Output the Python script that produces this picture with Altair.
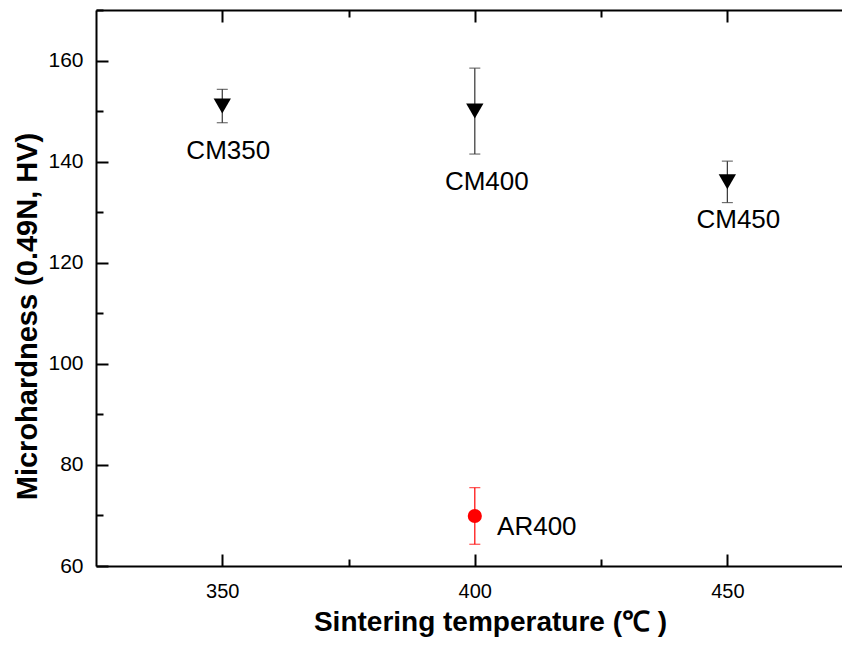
import altair as alt
import pandas as pd

# ---- data ----
temps = [350, 400, 450, 400]
hardness = [151.0, 150.0, 136.0, 69.9]
errors = [3.3, 8.5, 4.1, 5.6]
labels = ["CM350", "CM400", "CM450", "AR400"]
groups = ["CM", "CM", "CM", "AR"]

x_major = [350, 400, 450]
x_minor = [375, 425]
y_major = [60, 80, 100, 120, 140, 160]
y_minor = [70, 90, 110, 130, 150, 170]

df = pd.DataFrame(dict(t=temps, hv=hardness, err=errors, label=labels, group=groups))
df["lo"] = df.hv - df.err
df["hi"] = df.hv + df.err

FONT = "Liberation Sans"
xs = alt.Scale(domain=[325, 472.7], nice=False, zero=False)
ys = alt.Scale(domain=[60, 170], nice=False, zero=False)
col = alt.Color("group:N", scale=alt.Scale(domain=["CM", "AR"], range=["#333333", "#ff0000"]), legend=None)


def tick_axis(orient, values, size):
    return alt.Axis(orient=orient, values=values, offset=-size, tickSize=size, tickWidth=2,
                    tickColor="black", labels=False, domain=False, grid=False, title=None)


x_main = alt.Axis(orient="bottom", values=x_major, ticks=False, domain=True, domainColor="black",
                  domainWidth=2, grid=False, labelFont=FONT, labelFontSize=20, labelColor="black",
                  labelBaseline="alphabetic", labelPadding=31, title="Sintering temperature (℃ )",
                  titleFont=FONT, titleFontSize=28, titleFontWeight="bold", titleColor="black",
                  titleX=394, titleY=64, titleBaseline="alphabetic", titleAlign="center")
y_main = alt.Axis(orient="left", values=y_major, ticks=False, domain=True, domainColor="black",
                  domainWidth=2, grid=False, labelFont=FONT, labelFontSize=21, labelColor="black",
                  labelPadding=13, title="Microhardness (0.49N, HV)", titleFont=FONT, titleFontSize=29,
                  titleFontWeight="bold", titleColor="black", titleX=-60, titleY=306,
                  titleAngle=-90, titleBaseline="alphabetic", titleAlign="center")
x_top = alt.Axis(orient="top", ticks=False, labels=False, domain=True, domainColor="black",
                 domainWidth=2, grid=False, title=None)

base = alt.Chart(df)

bars = base.mark_rule(strokeWidth=1.2).encode(
    x=alt.X("t:Q", scale=xs, axis=x_main),
    y=alt.Y("lo:Q", scale=ys, axis=y_main),
    y2="hi:Q",
    color=col,
)

caps = base.transform_fold(["lo", "hi"], as_=["k", "v"]).mark_tick(
    orient="horizontal", size=11, thickness=1.2
).encode(
    x=alt.X("t:Q", scale=xs, axis=tick_axis("bottom", x_major, 12)),
    y=alt.Y("v:Q", scale=ys, axis=tick_axis("left", y_major, 12)),
    color=col,
)

tri = base.transform_filter(alt.datum.group == "CM").mark_point(
    shape="triangle-down", filled=True, size=300, color="black", opacity=1
).encode(
    x=alt.X("t:Q", scale=xs, axis=tick_axis("bottom", x_minor, 7)),
    y=alt.Y("hv:Q", scale=ys, axis=tick_axis("left", y_minor, 7)),
)

dot = base.transform_filter(alt.datum.group == "AR").mark_point(
    shape="circle", filled=True, size=200, color="#ff0000", opacity=1
).encode(
    x=alt.X("t:Q", scale=xs, axis=x_top),
    y=alt.Y("hv:Q", scale=ys, axis=None),
)

offsets = {"CM350": (6, 45), "CM400": (12, 71), "CM450": (11, 38), "AR400": (62, 11)}
extra_axes = [tick_axis("top", x_major, 12), tick_axis("top", x_minor, 7), None, None]
texts = []
for lab, ax in zip(labels, extra_axes):
    dx, dy = offsets[lab]
    texts.append(
        base.transform_filter(alt.datum.label == lab).mark_text(
            font=FONT, fontSize=26, color="black", dx=dx, dy=dy, align="center", baseline="middle"
        ).encode(
            x=alt.X("t:Q", scale=xs, axis=ax),
            y=alt.Y("hv:Q", scale=ys, axis=None),
            text="label:N",
        )
    )

chart = alt.layer(bars, caps, tri, dot, *texts).resolve_axis(
    x="independent", y="independent"
).properties(
    width=746, height=556,
    autosize=alt.AutoSizeParams(type="none"),
    padding={"left": 96, "top": 10, "right": 0, "bottom": 79},
    background="white",
).configure_view(stroke=None)

chart.save("out.html", embed_options={"renderer": "svg", "actions": False})
